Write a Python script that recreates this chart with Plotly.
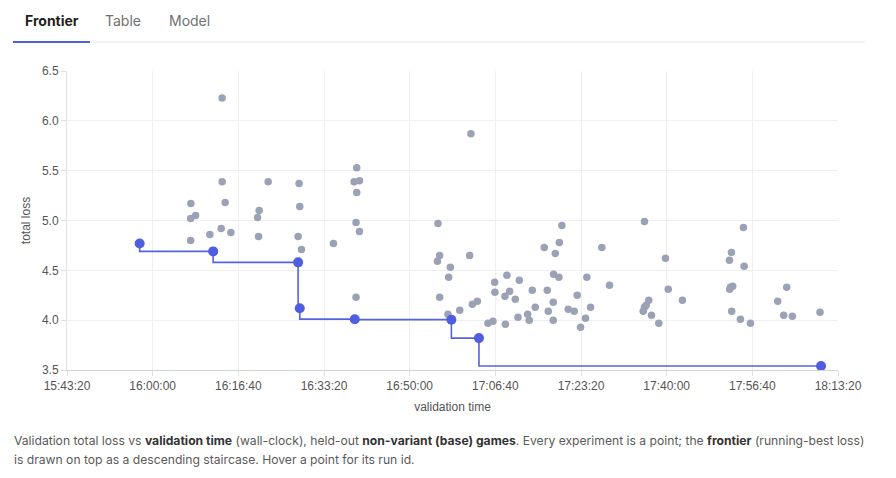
import plotly.graph_objects as go

DAY = "2024-01-01 "

# Frontier (running-best) points
frontier_time = ["15:57:28", "16:11:46", "16:28:18", "16:28:37", "16:39:19",
                 "16:58:07", "17:03:29", "18:10:02"]
frontier_loss = [4.77, 4.69, 4.58, 4.12, 4.01, 4.005, 3.82, 3.54]

# All experiments
exp_time = [
    "16:13:31", "16:07:26", "16:08:21", "16:07:23", "16:07:23", "16:13:31", "16:14:06",
    "16:13:20", "16:11:08", "16:15:13", "16:22:28", "16:20:43", "16:20:24", "16:20:36",
    "16:28:29", "16:28:37", "16:28:18", "16:28:57", "16:35:10", "16:39:42", "16:39:11",
    "16:40:14", "16:39:42", "16:39:34", "16:40:14", "16:39:34",
    "17:01:55", "16:55:30", "16:55:50", "16:55:24", "16:57:55", "16:57:35", "16:55:50",
    "16:57:27", "16:59:44", "17:01:40", "17:02:12", "17:03:10", "17:05:14", "17:06:12",
    "17:06:32", "17:06:35", "17:08:55", "17:09:27", "17:08:32", "17:10:33", "17:08:37",
    "17:11:20", "17:11:04", "17:12:57", "17:13:16", "17:13:51", "17:14:26", "17:16:11",
    "17:16:46", "17:16:58", "17:17:56", "17:17:56", "17:18:20", "17:18:00", "17:19:02",
    "17:19:07", "17:19:37", "17:20:51", "17:22:01", "17:22:36", "17:23:15", "17:24:13",
    "17:24:28", "17:25:11", "17:27:23", "17:28:53",
    "17:35:41", "17:39:46", "17:40:18", "17:43:04", "17:36:31", "17:36:01", "17:35:41",
    "17:35:26", "17:37:03", "17:38:28", "17:54:56", "17:52:36", "17:52:13", "17:55:04",
    "17:52:51", "17:52:24", "17:52:16", "17:52:39", "17:54:21", "17:56:18", "18:03:21",
    "18:01:36", "18:02:46", "18:04:27", "18:09:50",
]
exp_loss = [
    6.23, 5.17, 5.05, 5.02, 4.80, 5.39, 5.18,
    4.92, 4.86, 4.88, 5.39, 5.10, 5.03, 4.84,
    5.37, 5.14, 4.84, 4.71, 4.77, 5.53, 5.39,
    5.40, 5.28, 4.98, 4.89, 4.23,
    5.87, 4.97, 4.65, 4.59, 4.53, 4.43, 4.23,
    4.06, 4.10, 4.65, 4.16, 4.19, 3.97, 3.99,
    4.38, 4.28, 4.45, 4.29, 4.24, 4.21, 3.96,
    4.40, 4.03, 4.06, 4.00, 4.30, 4.13, 4.73,
    4.30, 4.09, 4.18, 4.00, 4.67, 4.46, 4.43,
    4.78, 4.95, 4.11, 4.09, 4.25, 3.93, 4.02,
    4.43, 4.13, 4.73, 4.35,
    4.99, 4.62, 4.31, 4.20, 4.20, 4.15, 4.13,
    4.09, 4.05, 3.97, 4.93, 4.68, 4.60, 4.54,
    4.34, 4.33, 4.31, 4.09, 4.01, 3.97, 4.33,
    4.19, 4.05, 4.04, 4.08,
]

x_start, x_end, x_tick_step_ms = "15:43:20", "18:13:20", 1000000
y_min, y_max, y_step = 3.5, 6.5, 0.5

tabs = ["Frontier", "Table", "Model"]

W, H = 896, 478
ML, MR, MT, MB = 67, 58, 71, 108
PW, PH = W - ML - MR, H - MT - MB


def px(x):
    return (x - ML) / PW


def py(y):
    return (H - MB - y) / PH


fig = go.Figure()
fig.add_trace(go.Scatter(
    x=[DAY + t for t in exp_time], y=exp_loss, mode="markers",
    marker=dict(size=7.5, color="#9ca2b6"), hoverinfo="skip", showlegend=False))
fig.add_trace(go.Scatter(
    x=[DAY + t for t in frontier_time], y=frontier_loss, mode="lines+markers",
    line=dict(shape="vh", color="#5563e2", width=1.6),
    marker=dict(size=10, color="#4f5de0"), showlegend=False))

axis_font = dict(family="Liberation Sans, Arial, sans-serif", size=12, color="#555")

fig.update_layout(
    width=W, height=H,
    margin=dict(l=ML, r=MR, t=MT, b=MB),
    paper_bgcolor="white", plot_bgcolor="white",
    font=axis_font,
    xaxis=dict(
        range=[DAY + x_start, DAY + x_end], tick0=DAY + x_start, dtick=x_tick_step_ms,
        tickformat="%H:%M:%S", showgrid=True, gridcolor="#efefef", gridwidth=1,
        showline=True, linecolor="#d4d4d4", linewidth=1,
        ticks="outside", ticklen=5, tickcolor="#e0e0e0",
        title=dict(text="validation time", font=axis_font, standoff=10),
        zeroline=False, fixedrange=True,
    ),
    yaxis=dict(
        range=[y_min, y_max], dtick=y_step, tick0=y_min, tickformat=".1f",
        showgrid=True, gridcolor="#efefef", gridwidth=1,
        showline=True, linecolor="#e0e0e0", linewidth=1,
        ticks="outside", ticklen=5, tickcolor="#e0e0e0",
        title=dict(text="total loss", font=axis_font, standoff=8),
        zeroline=False, fixedrange=True,
    ),
)

# Tabs header
tab_x = [52, 123, 189]
for i, (name, cx) in enumerate(zip(tabs, tab_x)):
    fig.add_annotation(
        xref="paper", yref="paper", x=px(cx), y=py(21), text=(f"<b>{name}</b>" if i == 0 else name),
        showarrow=False, xanchor="center", yanchor="middle",
        font=dict(family="Inter, Liberation Sans, Arial, sans-serif", size=14,
                  color="#1f1f1f" if i == 0 else "#707070"))
fig.add_shape(type="line", xref="paper", yref="paper", x0=px(90), x1=px(865), y0=py(42), y1=py(42),
              line=dict(color="#e6e6e6", width=1))
fig.add_shape(type="line", xref="paper", yref="paper", x0=px(13), x1=px(90), y0=py(42), y1=py(42),
              line=dict(color="#4f5de0", width=2))

cap_font = dict(family="Inter, Liberation Sans, Arial, sans-serif", size=12.15, color="#5a5a5a")
line1 = ("Validation total loss vs <b><span style='color:#333'>validation time</span></b> (wall-clock), held-out "
         "<b><span style='color:#333'>non-variant (base) games</span></b>. Every experiment is a point; the "
         "<b><span style='color:#333'>frontier</span></b> (running-best loss)")
line2 = "is drawn on top as a descending staircase. Hover a point for its run id."
fig.add_annotation(xref="paper", yref="paper", x=px(12), y=py(440), text=line1, showarrow=False,
                   xanchor="left", yanchor="middle", align="left", font=cap_font)
fig.add_annotation(xref="paper", yref="paper", x=px(12), y=py(459), text=line2, showarrow=False,
                   xanchor="left", yanchor="middle", align="left", font=cap_font)

fig.write_html("out.html", config={"displayModeBar": False})
